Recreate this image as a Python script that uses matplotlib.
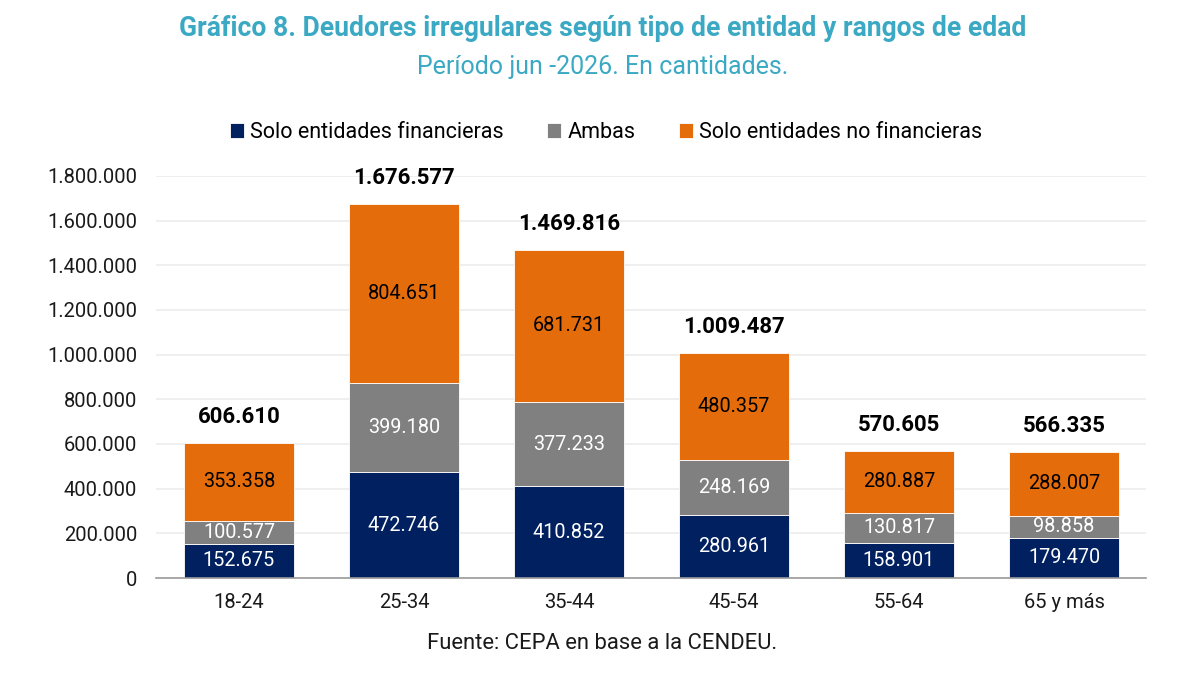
import matplotlib
matplotlib.use("Agg")
import matplotlib.pyplot as plt
import numpy as np

plt.rcParams['font.family'] = ['Roboto', 'DejaVu Sans']

edades = ["18-24", "25-34", "35-44", "45-54", "55-64", "65 y más"]
solo_financieras = [152675, 472746, 410852, 280961, 158901, 179470]
ambas = [100577, 399180, 377233, 248169, 130817, 98858]
solo_no_financieras = [353358, 804651, 681731, 480357, 280887, 288007]
totales = [606610, 1676577, 1469816, 1009487, 570605, 566335]

series = [
    ("Solo entidades financieras", solo_financieras, "#002060", "white"),
    ("Ambas", ambas, "#808080", "white"),
    ("Solo entidades no financieras", solo_no_financieras, "#e46c0a", "black"),
]

teal = "#3ba9c3"


def fmt(v):
    return f"{v:,}".replace(",", ".")


fig = plt.figure(figsize=(12, 6.8), dpi=100, facecolor='white')
ax = fig.add_axes([0.1304, 0.15, 0.825, 0.5912])

x = np.arange(len(edades))
bottom = np.zeros(len(edades))
handles = []
for name, vals, color, tcolor in series:
    vals = np.array(vals)
    b = ax.bar(x, vals, 0.667, bottom=bottom, color=color, edgecolor='white',
               linewidth=0.6, label=name, zorder=3)
    handles.append(b)
    for xi, v, bt in zip(x, vals, bottom):
        ax.text(xi, bt + v / 2, fmt(int(v)), ha='center', va='center',
                color=tcolor, fontsize=14.3, zorder=4)
    bottom += vals

for xi, t in zip(x, totales):
    ax.text(xi, t + 65000, fmt(t), ha='center', va='bottom',
            fontsize=16, fontweight='bold', color='black')

ax.set_xlim(-0.5, len(edades) - 0.5)
ax.set_ylim(0, 1800000)
ax.set_yticks(np.arange(0, 1800001, 200000))
ax.set_yticklabels([fmt(int(v)) for v in np.arange(0, 1800001, 200000)])
ax.set_xticks(x)
ax.set_xticklabels(edades)
ax.tick_params(axis='both', length=0, labelsize=14.5, colors='#1a1a1a')
ax.tick_params(axis='x', pad=11)
ax.tick_params(axis='y', pad=14)
ax.grid(axis='y', color='#ececec', linewidth=1.2, zorder=0)
for s in ['top', 'right', 'left']:
    ax.spines[s].set_visible(False)
ax.spines['bottom'].set_color('#9a9a9a')
ax.spines['bottom'].set_linewidth(1.2)
ax.spines['bottom'].set_zorder(5)

fig.text(0.502, 0.958, "Gráfico 8. Deudores irregulares según tipo de entidad y rangos de edad",
         ha='center', va='center', fontsize=19.1, fontweight='bold', color=teal)
fig.text(0.502, 0.901, "Período jun -2026. En cantidades.",
         ha='center', va='center', fontsize=18, color=teal)

fig.legend(handles=handles, labels=[s[0] for s in series], loc='center',
           bbox_to_anchor=(0.505, 0.805), ncol=3, frameon=False, fontsize=15.5,
           handlelength=0.65, handleheight=0.65, handletextpad=0.3, columnspacing=2.0)

fig.text(0.502, 0.054, "Fuente: CEPA en base a la CENDEU.", ha='center', va='center',
         fontsize=15.8, color='#1a1a1a')

fig.savefig("out.png", dpi=100, facecolor='white')
